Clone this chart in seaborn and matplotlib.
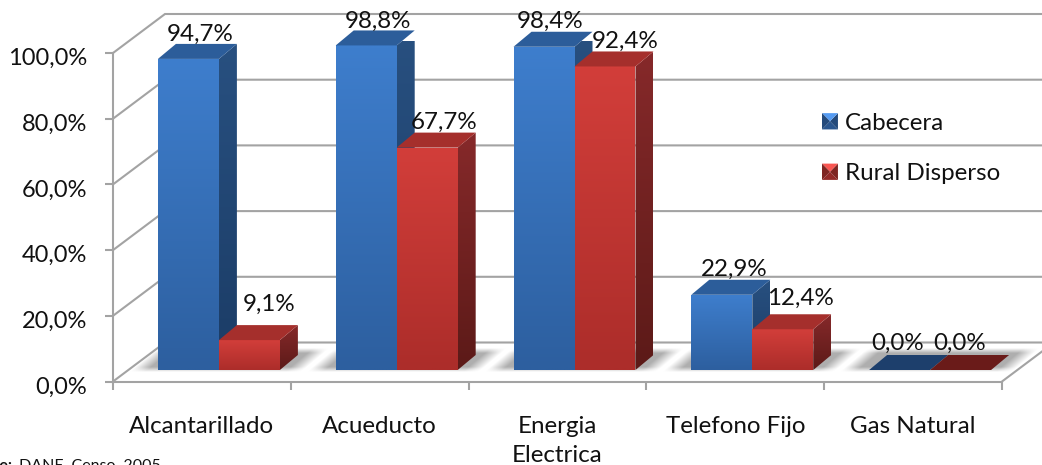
import numpy as np
import pandas as pd
import matplotlib
matplotlib.use("Agg")
import matplotlib.pyplot as plt
import seaborn as sns
from matplotlib.colors import to_rgb
from matplotlib.patches import Polygon
from matplotlib.transforms import ScaledTranslation
from matplotlib.legend_handler import HandlerBase

# ---- data ----
categories = ["Alcantarillado", "Acueducto", "Energia\nElectrica", "Telefono Fijo", "Gas Natural"]
cabecera = [94.7, 98.8, 98.4, 22.9, 0.0]
rural = [9.1, 67.7, 92.4, 12.4, 0.0]
series_names = ["Cabecera", "Rural Disperso"]
y_ticks = [0, 20, 40, 60, 80, 100]
source_bold = "Fuente:"
source_text = "DANE, Censo, 2005"

df = pd.DataFrame({
    "cat": categories * 2,
    "serie": [series_names[0]] * 5 + [series_names[1]] * 5,
    "val": cabecera + rural,
})

# ---- layout (pixels) ----
W, H = 1042, 465
DPI = 100
L, R, Y0, Y100 = 113, 1002, 381.5, 53
PX = (R - L) / 5          # px per category
PY = (Y0 - Y100) / 100    # px per percent
WALL_DX, WALL_DY = 52 / PX, 39 / PY
BAR_DX, BAR_DY = 18 / PX, 15 / PY
GRID = "#a3a3a3"
FONT = "Lato"
FS = 17.4

sns.set_theme(style="white")
plt.rcParams["font.family"] = [FONT, "DejaVu Sans"]
fig = plt.figure(figsize=(W / DPI, H / DPI), dpi=DPI, facecolor="white")


def rect(x_off=0, y_off=0):
    return [(L + x_off) / W, (H - Y0 + y_off) / H, (R - L) / W, (Y0 - Y100) / H]


# ---- frame axes: walls, floor, ticks ----
frame = fig.add_axes(rect(), zorder=1)
frame.set_xlim(-0.5, 4.5)
frame.set_ylim(0, 100)
frame.patch.set_alpha(0)
sns.despine(ax=frame)
for s in ("left", "bottom"):
    frame.spines[s].set_color(GRID)
    frame.spines[s].set_linewidth(1.5)
for v in y_ticks:
    frame.plot([-0.5, -0.5 + WALL_DX, 4.5 + WALL_DX], [v, v + WALL_DY, v + WALL_DY],
               color=GRID, lw=1.5, clip_on=False, solid_joinstyle="miter", zorder=1)
frame.plot([4.5, 4.5 + WALL_DX], [0, WALL_DY], color=GRID, lw=1.5, clip_on=False, zorder=1)
frame.set_yticks(y_ticks)
frame.set_yticklabels([f"{v:.1f}%".replace(".", ",") for v in y_ticks], fontsize=17, color="#111111")
frame.set_xticks(np.arange(-0.5, 5, 1))
frame.set_xticklabels([])
frame.set_xticks(np.arange(5), minor=True)
frame.set_xticklabels(categories, minor=True, fontsize=FS, color="#111111", linespacing=1.5, va="top")
frame.tick_params(axis="both", which="major", color=GRID, width=1.5, length=5.5, left=True, bottom=True)
frame.tick_params(axis="y", pad=13)
frame.tick_params(axis="x", which="minor", length=0, pad=24.5)
nudge = ScaledTranslation(0, -2.5 / 72, fig.dpi_scale_trans)
for lab in frame.get_yticklabels():
    lab.set_transform(lab.get_transform() + nudge)

# ---- bars axes: same scales, pushed onto the floor ----
ax = fig.add_axes(rect(17, 11.5), zorder=2)
palette = {series_names[0]: "#3a78c6", series_names[1]: "#cc3b37"}
sns.barplot(data=df, x="cat", y="val", hue="serie", palette=palette, width=0.686, gap=0,
            order=categories, hue_order=series_names, saturation=1, ax=ax, linewidth=0)
ax.set_xlim(-0.5, 4.5)
ax.set_ylim(0, 100)
ax.autoscale(False)
ax.patch.set_alpha(0)

# floor shadow under each bar pair, computed from the bars
bars = [c.patches for c in ax.containers]
xs = np.arange(0, R - L + 60, 1.0)
ys = np.arange(0, 26, 1.0)      # px above the shadow front edge
XX, YY = np.meshgrid(xs, ys)
alpha = np.zeros_like(XX)
ramp = lambda d, w: np.clip(d / w + 0.5, 0, 1)
for b0, b1 in zip(*bars):
    left = (b0.get_x() + 0.5) * PX + 17
    right = (b1.get_x() + b1.get_width() + 0.5) * PX + 17
    u = XX - YY * 1.2
    a = ramp(u - (left - 22), 16) * ramp((right + 12) - u, 16)
    alpha = np.maximum(alpha, a)
alpha *= ramp(YY - 3, 5) * ramp(22 - YY, 5) * 0.7
shadow = np.dstack([np.full_like(XX, 0.55)] * 3 + [alpha])
frame.imshow(shadow, origin="lower", aspect="auto", interpolation="bilinear", zorder=1.5,
             extent=[-0.5, -0.5 + xs[-1] / PX, 8 / PY, (8 + ys[-1]) / PY], clip_on=False)
frame.set_xlim(-0.5, 4.5)
frame.set_ylim(0, 100)


def face(verts, c_top, c_bottom, z):
    verts = np.array(verts)
    x0, x1 = verts[:, 0].min(), verts[:, 0].max()
    y0, y1 = verts[:, 1].min(), verts[:, 1].max()
    if y1 - y0 < 1e-9:
        return
    t = np.linspace(0, 1, 64)[:, None, None]
    img = np.array(to_rgb(c_bottom))[None, None, :] * (1 - t) + np.array(to_rgb(c_top))[None, None, :] * t
    im = ax.imshow(img, origin="lower", aspect="auto", extent=[x0, x1, y0, y1],
                   zorder=z, interpolation="bilinear", clip_on=True)
    clip = Polygon(verts, closed=True, transform=ax.transData)
    im.set_clip_path(clip)


styles = [
    dict(front=("#3e7ecd", "#2d5f9f"), side=("#285080", "#1b3c66"), top="#2c5d9a", flat="#1d3f6c"),
    dict(front=("#d23e3a", "#ac2d2a"), side=("#86292a", "#5c1a18"), top="#a52f2c", flat="#6a1b19"),
]
z = 3
for i in range(5):
    for st, group in zip(styles, bars):
        b = group[i]
        x0, x1 = b.get_x(), b.get_x() + b.get_width()
        h = b.get_height()
        b.set_visible(h > 0)
        b.set_zorder(z)
        ddx, ddy = BAR_DX, BAR_DY
        if h > 0:
            face([(x0, 0), (x1, 0), (x1, h), (x0, h)], *st["front"], z + 0.1)
            face([(x1, 0), (x1 + ddx, ddy), (x1 + ddx, h + ddy), (x1, h)], *st["side"], z + 0.1)
        top_col = st["top"] if h > 0 else st["flat"]
        ax.add_patch(Polygon([(x0, h), (x1, h), (x1 + ddx, h + ddy), (x0 + ddx, h + ddy)],
                             closed=True, fc=top_col, ec="none", zorder=z + 0.1, clip_on=False))
        z += 1
ax.set_xlim(-0.5, 4.5)
ax.set_ylim(0, 100)

# ---- data labels ----
label_dx = [[12, 12, 6, 12, -2], [20, 17, 20, 18, -1]]
label_dy = [25, 24, 25, 25, 27], [36, 25, 25, 31, 27]
for s, group in enumerate(bars):
    for i, b in enumerate(group):
        txt = f"{b.get_height():.1f}%".replace(".", ",")
        ax.annotate(txt, (b.get_x() + b.get_width() / 2, b.get_height()),
                    xytext=(label_dx[s][i] * 72 / DPI, label_dy[s][i] * 72 / DPI),
                    textcoords="offset points", ha="center", va="center",
                    fontsize=FS, color="#111111", zorder=200, annotation_clip=False)

ax.set_axis_off()


# ---- legend ----
class Pyramid(HandlerBase):
    def create_artists(self, legend, orig, xd, yd, w, h, fs, trans):
        base = np.array(to_rgb(orig.get_facecolor()))
        x0, y0 = -xd, -yd
        p = [(x0, y0), (x0 + w, y0), (x0 + w, y0 + h), (x0, y0 + h)]
        mid_y = y0 + h * 0.5
        tones = [0.72, 0.62, 1.12, 0.62]
        out = []
        for k, tone in enumerate(tones):
            a, b_ = p[k], p[(k + 1) % 4]
            out.append(Polygon([a, b_, (x0 + w / 2, mid_y)], closed=True,
                               fc=np.clip(base * tone + (0.08 if tone > 1 else 0), 0, 1),
                               ec="none", transform=trans))
        return out


handles, labels = ax.get_legend_handles_labels()
leg = ax.legend(handles, labels, handler_map={type(handles[0]): Pyramid()}, loc="center left",
                bbox_to_anchor=(822 / W, 1 - 148.5 / H), bbox_transform=fig.transFigure,
                frameon=False, fontsize=FS, handlelength=0.66, handleheight=0.66,
                handletextpad=0.3, labelspacing=1.22, borderpad=0, borderaxespad=0)
for t in leg.get_texts():
    t.set_color("#111111")
leg.set_zorder(300)

# ---- source note ----
fig.text(13 / W, 1 - 469.5 / H, source_bold, ha="right", va="baseline", fontsize=11.5, fontweight="bold", color="#111111")
fig.text(19 / W, 1 - 469.5 / H, source_text, ha="left", va="baseline", fontsize=11.5, color="#111111")

fig.savefig("out.png", dpi=DPI, facecolor="white")
